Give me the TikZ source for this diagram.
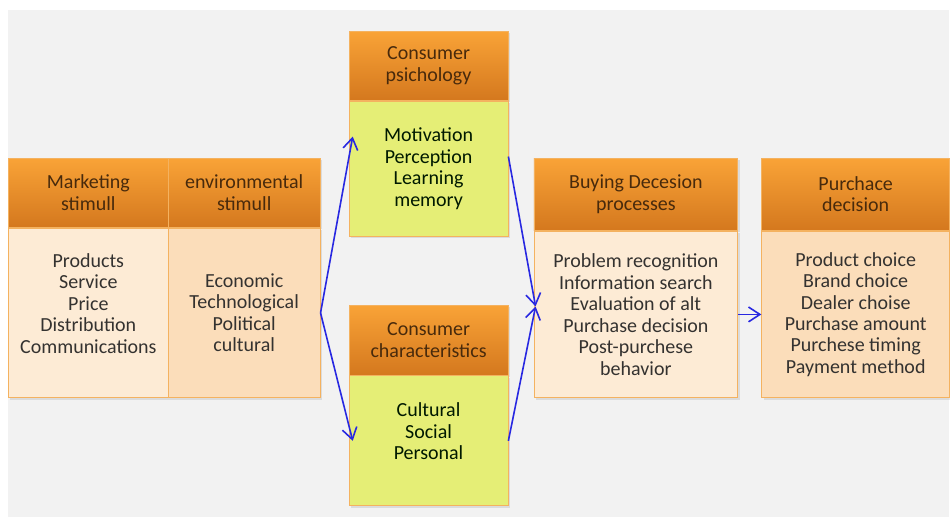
\documentclass[tikz,border=0pt]{standalone}
\usepackage{fontspec}
\setmainfont{Carlito}
\definecolor{page}{RGB}{242,242,242}
\definecolor{hdrtop}{RGB}{249,163,55}
\definecolor{hdrbot}{RGB}{212,120,30}
\definecolor{rim}{RGB}{244,178,96}
\definecolor{peach}{RGB}{253,235,213}
\definecolor{peachdeep}{RGB}{251,221,186}
\definecolor{lime}{RGB}{229,238,118}
\definecolor{hdrtext}{RGB}{72,42,12}
\definecolor{bodytext}{RGB}{52,50,48}
\definecolor{arrowblue}{RGB}{40,40,225}
\usetikzlibrary{arrows.meta,positioning,shadows}
\tikzset{
  hdr/.style={draw=rim,thin,top color=hdrtop,bottom color=hdrbot,align=center,
              text=hdrtext,font=\fontsize{10}{10.75}\selectfont,inner sep=2pt,
              anchor=north west,minimum height=34.5pt,
              drop shadow={opacity=0.2,shadow xshift=1pt,shadow yshift=-1pt}},
  bodybox/.style={draw=rim,thin,fill=peach,align=center,text=bodytext,
              font=\fontsize{10}{10.75}\selectfont,inner sep=2pt,
              drop shadow={opacity=0.2,shadow xshift=1pt,shadow yshift=-1pt}},
  limebox/.style={bodybox,fill=lime,text=black!75!green!40!black},
  arr/.style={-{Straight Barb[length=2mm,width=2.6mm]},thick,draw=arrowblue},
}
\begin{document}
\begin{tikzpicture}[x=0.5pt,y=-0.5pt]
    % page
    \fill[white] (0,0) rectangle (950,517);
    \fill[page] (8,10) rectangle (950,517);
    % stimuli
    \node[hdr,minimum width=80pt] (mkt) at (8,158) {Marketing\\stimull};
    \node[bodybox,below=0pt of mkt,minimum width=80pt,minimum height=85pt] (mktb)
      {Products\\Service\\Price\\Distribution\\Communications\\[-1pt]};
    \node[hdr,minimum width=76pt] (env) at (168,158) {environmental\\stimull};
    \node[bodybox,fill=peachdeep,below=0pt of env,minimum width=76pt,minimum height=85pt] (envb)
      {Economic\\Technological\\Political\\cultural};
    % buyer's black box
    \node[hdr,minimum width=79.5pt] (psy) at (349,31) {Consumer\\psichology};
    \node[limebox,below=0pt of psy,minimum width=79.5pt,minimum height=67.5pt] (psyb)
      {Motivation\\Perception\\Learning\\memory};
    \node[hdr,minimum width=79.5pt,minimum height=35pt] (chr) at (349,305) {Consumer\\characteristics};
    \node[limebox,below=0pt of chr,minimum width=79.5pt,minimum height=65pt] (chrb)
      {Cultural\\Social\\Personal\\[-1pt]};
    % decision process
    \node[hdr,minimum width=102pt,minimum height=36pt] (buy) at (534,158) {Buying Decesion\\processes};
    \node[bodybox,below=0pt of buy,minimum width=102pt,minimum height=83.5pt] (buyb)
      {Problem recognition\\Information search\\Evaluation of alt\\Purchase decision\\Post-purchese\\behavior};
    \node[hdr,minimum width=94pt,minimum height=36pt] (pur) at (762,158) {Purchace\\decision};
    \node[bodybox,fill=peachdeep,below=0pt of pur,minimum width=94pt,minimum height=83.5pt] (purb)
      {Product choice\\Brand choice\\Dealer choise\\Purchase amount\\Purchese timing\\Payment method};
    % connectors
    \draw[arr] (envb.east) -- ([yshift=16pt,xshift=2pt]psyb.west);
    \draw[arr] (envb.east) -- ([xshift=2pt]chrb.west);
    \draw[arr] ([yshift=6pt]psyb.east) -- ([yshift=4pt,xshift=1pt]buyb.west);
    \draw[arr] (chrb.east) -- ([yshift=4pt,xshift=1pt]buyb.west);
    \draw[arr] (buyb.east) -- (purb.west);
\end{tikzpicture}
\end{document}
